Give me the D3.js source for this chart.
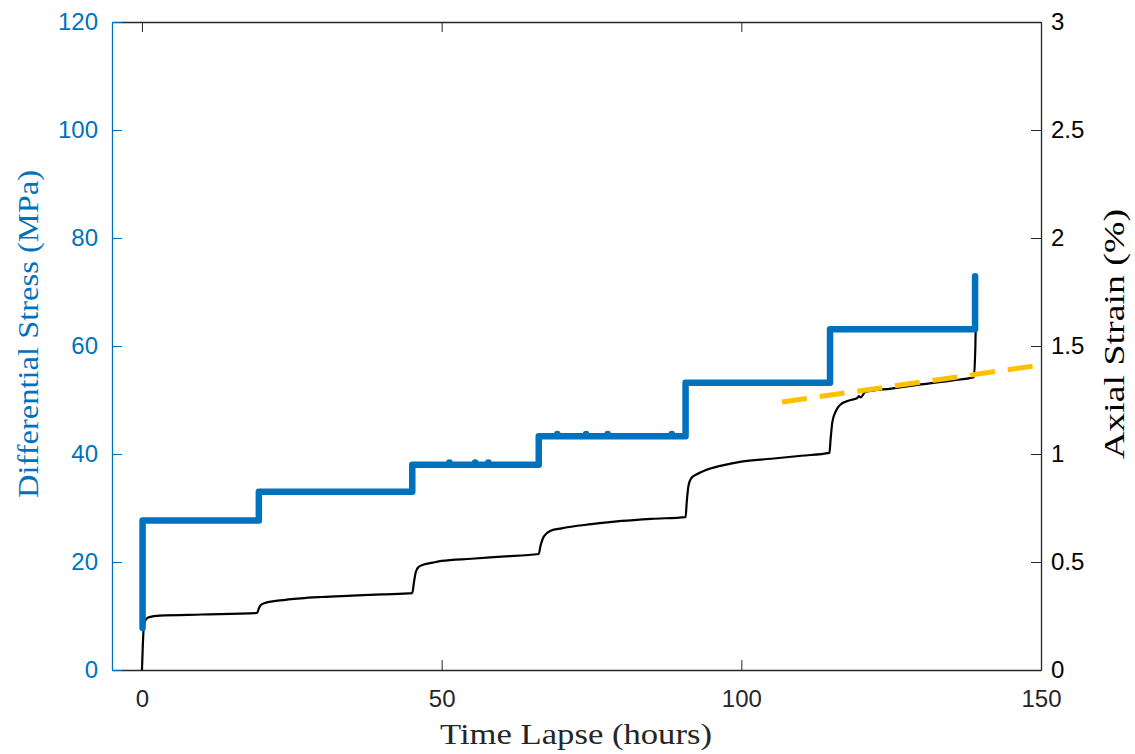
<!DOCTYPE html>
<html>
<head>
<meta charset="utf-8">
<script src="https://cdn.jsdelivr.net/npm/d3@7"></script>
<style>
  body { margin: 0; background: #fff; }
  .tick text { font-family: "Liberation Sans", Arial, sans-serif; font-size: 24px; }
  .lbl { font-family: "Liberation Serif", "Times New Roman", serif; font-size: 30px; }
</style>
</head>
<body>
<div id="chart"></div>
<script>
// stress steps (time in hours, stress in MPa)
const stressTime = [0.1, 0.1, 19.5, 19.5, 45.1, 45.1, 66.2, 66.2, 90.7, 90.7, 114.8, 114.8, 139, 139];
const stressVal  = [7.8, 27.7, 27.7, 33, 33, 38, 38, 43.3, 43.3, 53.2, 53.2, 63.1, 63.1, 72.9];

// small spikes on the stress record
const blipTime = [51.3, 55.6, 57.8, 69.3, 74.1, 77.7, 88.4];
const blipVal  = [38.4, 38.4, 38.4, 43.7, 43.7, 43.7, 43.7];

// axial strain (%)
const strainTime = [0, 0.15, 0.3, 0.6, 1.2, 3, 10, 19.2, 19.5, 19.8, 20.5, 23, 26.5, 30, 35, 40, 45.1,
  45.4, 45.7, 46.2, 47, 48.5, 50, 55, 60, 66.2, 66.5, 66.9, 67.5, 68.2, 70, 75, 80, 85, 90.7,
  90.9, 91.2, 91.7, 92.5, 94, 96.5, 100, 105, 110, 114.7, 114.9, 115.2, 115.8, 116.5, 118, 119.3,
  119.6, 119.9, 120.7, 125, 130, 135, 138.8, 139.05, 139.2];
const strainVal = [0, 0.12, 0.2, 0.232, 0.245, 0.252, 0.257, 0.264, 0.285, 0.3, 0.31, 0.322, 0.332, 0.338, 0.344, 0.35, 0.356,
  0.41, 0.455, 0.478, 0.488, 0.497, 0.505, 0.515, 0.525, 0.537, 0.575, 0.61, 0.632, 0.645, 0.656, 0.675, 0.69, 0.7, 0.708,
  0.78, 0.855, 0.89, 0.905, 0.925, 0.945, 0.965, 0.978, 0.992, 1.005, 1.07, 1.15, 1.2, 1.228, 1.248, 1.258,
  1.268, 1.262, 1.287, 1.303, 1.322, 1.34, 1.356, 1.5, 1.713];

// fitted trend (dashed)
const trendTime = [106.8, 150];
const trendVal  = [1.241, 1.412];

const xTicks = [0, 50, 100, 150];
const leftTicks = [0, 20, 40, 60, 80, 100, 120];
const rightTicks = [0, 0.5, 1, 1.5, 2, 2.5, 3];

const W = 1135, H = 754;
const margin = {top: 22, left: 112, right: 94, bottom: 84};
const width = W - margin.left - margin.right,
      height = H - margin.top - margin.bottom;

const blue = "#0072BD", axisGray = "#262626";

const svg = d3.select("#chart").append("svg")
  .attr("width", W).attr("height", H);
const g = svg.append("g").attr("transform", `translate(${margin.left},${margin.top})`);

const x = d3.scaleLinear().domain([-5, 150]).range([0, width]);
const yL = d3.scaleLinear().domain([0, 120]).range([height, 0]);
const yR = d3.scaleLinear().domain([0, 3]).range([height, 0]);

// axes (ticks inward, like matlab)
const xAxis = g.append("g").attr("transform", `translate(0,${height})`)
  .call(d3.axisBottom(x).tickValues(xTicks).tickSizeInner(-10).tickSizeOuter(0).tickPadding(20));
xAxis.selectAll("path, line").attr("stroke", axisGray);
xAxis.selectAll("text").attr("fill", axisGray);

const xTop = g.append("g")
  .call(d3.axisTop(x).tickValues(xTicks).tickSizeInner(-10).tickSizeOuter(0).tickFormat(""));
xTop.selectAll("path, line").attr("stroke", axisGray);

const leftAx = g.append("g")
  .call(d3.axisLeft(yL).tickValues(leftTicks).tickSizeInner(-10).tickSizeOuter(0).tickPadding(14));
leftAx.selectAll("path, line").attr("stroke", blue);
leftAx.selectAll("text").attr("fill", blue);

const rightAx = g.append("g").attr("transform", `translate(${width},0)`)
  .call(d3.axisRight(yR).tickValues(rightTicks).tickSizeInner(-10).tickSizeOuter(0).tickPadding(10)
    .tickFormat(d3.format("")));
rightAx.selectAll("path, line").attr("stroke", axisGray);
rightAx.selectAll("text").attr("fill", "#000");

svg.selectAll(".domain").attr("stroke-width", 1.3);

// strain curve
const strain = strainTime.map((t, i) => [t, strainVal[i]]);
g.append("path")
  .datum(strain)
  .attr("fill", "none")
  .attr("stroke", "#000")
  .attr("stroke-width", 2.2)
  .attr("stroke-linejoin", "round")
  .attr("d", d3.line().x(d => x(d[0])).y(d => yR(d[1])).curve(d3.curveMonotoneX));

// stress steps
const stress = stressTime.map((t, i) => [t, stressVal[i]]);
g.append("path")
  .datum(stress)
  .attr("fill", "none")
  .attr("stroke", blue)
  .attr("stroke-width", 6.5)
  .attr("stroke-linejoin", "round")
  .attr("stroke-linecap", "round")
  .attr("d", d3.line().x(d => x(d[0])).y(d => yL(d[1])));

g.selectAll(".blip")
  .data(blipTime.map((t, i) => [t, blipVal[i]]))
  .join("circle")
  .attr("class", "blip")
  .attr("cx", d => x(d[0]))
  .attr("cy", d => yL(d[1]))
  .attr("r", 3.3)
  .attr("fill", blue);

// dashed trend
g.append("path")
  .datum(trendTime.map((t, i) => [t, trendVal[i]]))
  .attr("fill", "none")
  .attr("stroke", "#FFC000")
  .attr("stroke-width", 5)
  .attr("stroke-dasharray", "25,13")
  .attr("d", d3.line().x(d => x(d[0])).y(d => yR(d[1])));

// labels (computer modern is wider than times, so stretch a bit)
svg.append("text")
  .attr("class", "lbl")
  .attr("x", 576).attr("y", 744)
  .attr("text-anchor", "middle")
  .attr("textLength", 272)
  .attr("lengthAdjust", "spacingAndGlyphs")
  .attr("fill", axisGray)
  .text("Time Lapse (hours)");

svg.append("text")
  .attr("class", "lbl")
  .attr("transform", "translate(38,334) rotate(-90)")
  .attr("text-anchor", "middle")
  .attr("textLength", 328)
  .attr("lengthAdjust", "spacingAndGlyphs")
  .attr("fill", blue)
  .text("Differential Stress (MPa)");

svg.append("text")
  .attr("class", "lbl")
  .attr("transform", "translate(1124,334) rotate(-90)")
  .attr("text-anchor", "middle")
  .attr("textLength", 250)
  .attr("lengthAdjust", "spacingAndGlyphs")
  .attr("fill", "#000")
  .text("Axial Strain (%)");
</script>
</body>
</html>
